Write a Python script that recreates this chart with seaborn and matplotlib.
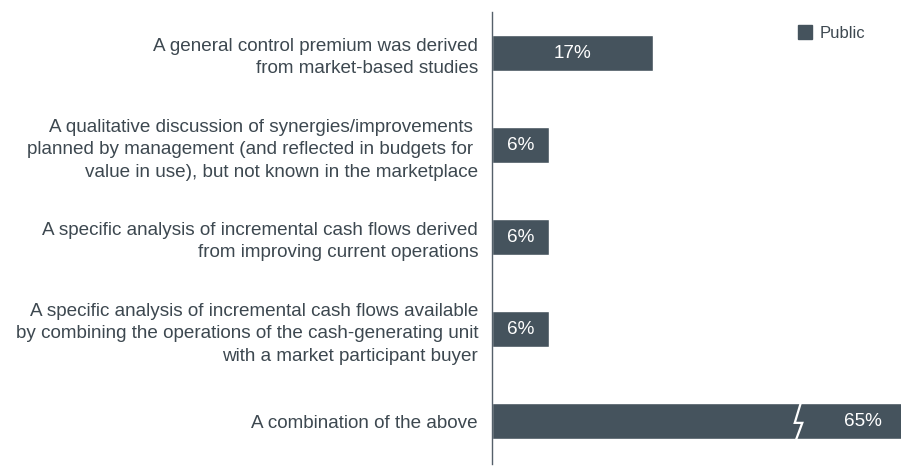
import matplotlib
matplotlib.use('Agg')
import matplotlib.pyplot as plt
import matplotlib.patches as mpatches
import seaborn as sns

# -------------------------------------------------------------
# DATA
# -------------------------------------------------------------
categorias = [
    'A general control premium was derived\nfrom market-based studies',
    'A qualitative discussion of synergies/improvements \nplanned by management (and reflected in budgets for \nvalue in use), but not known in the marketplace',
    'A specific analysis of incremental cash flows derived\nfrom improving current operations',
    'A specific analysis of incremental cash flows available\nby combining the operations of the cash-generating unit\nwith a market participant buyer',
    'A combination of the above',
]
valores = [17, 6, 6, 6, 65]
rotulos = ['17%', '6%', '6%', '6%', '65%']
serie = 'Public'

COR_BARRA = '#45535d'
COR_TEXTO = '#3d4850'
X_MAX = 43.3  # eixo cortado: a barra de 65% ultrapassa o limite
FS = 13.6

# -------------------------------------------------------------
# CONFIGURAÇÃO VISUAL
# -------------------------------------------------------------
sns.set_theme(style='white')
plt.rcParams['font.family'] = ['Liberation Sans', 'DejaVu Sans']

fig = plt.figure(figsize=(9.01, 4.66), dpi=100)
ax = fig.add_axes([492 / 901, 2 / 466, 1 - 492 / 901, 452 / 466])

sns.barplot(x=valores, y=categorias, orient='h', color=COR_BARRA,
            saturation=1, width=0.39, ax=ax)

ax.set_xlim(0, X_MAX)
ax.set_ylim(4.467, -0.446)

# rótulos dentro das barras
for i, (v, r) in enumerate(zip(valores, rotulos)):
    xpos = v / 2 if v < X_MAX else X_MAX - 4
    ax.text(xpos, i, r, ha='center', va='center', color='white', fontsize=FS)

# símbolo de quebra na barra cortada
i_quebra = valores.index(max(valores))
xq = 32.3
ax.plot([xq + 0.4, xq - 0.25, xq + 0.55, xq - 0.1],
        [i_quebra - 0.2, i_quebra + 0.02, i_quebra + 0.02, i_quebra + 0.2],
        color='white', linewidth=1.6, clip_on=True, solid_joinstyle='miter')

# eixos
for lado in ['top', 'right', 'bottom']:
    ax.spines[lado].set_visible(False)
ax.spines['left'].set_color('#55606a')
ax.spines['left'].set_linewidth(1)
ax.set_xticks([])
ax.set_xlabel('')
ax.set_ylabel('')
ax.tick_params(axis='y', length=0, pad=10, labelsize=FS, labelcolor=COR_TEXTO)
for t in ax.get_yticklabels():
    t.set_linespacing(1.42)

# legenda
handle = mpatches.Patch(color=COR_BARRA, label=serie)
leg = ax.legend(handles=[handle], loc='upper right', bbox_to_anchor=(0.93, 0.985),
                frameon=False, fontsize=12, handlelength=0.85, handleheight=0.85,
                handletextpad=0.5, borderaxespad=0)
for t in leg.get_texts():
    t.set_color(COR_TEXTO)

plt.savefig('out.png', dpi=100)
